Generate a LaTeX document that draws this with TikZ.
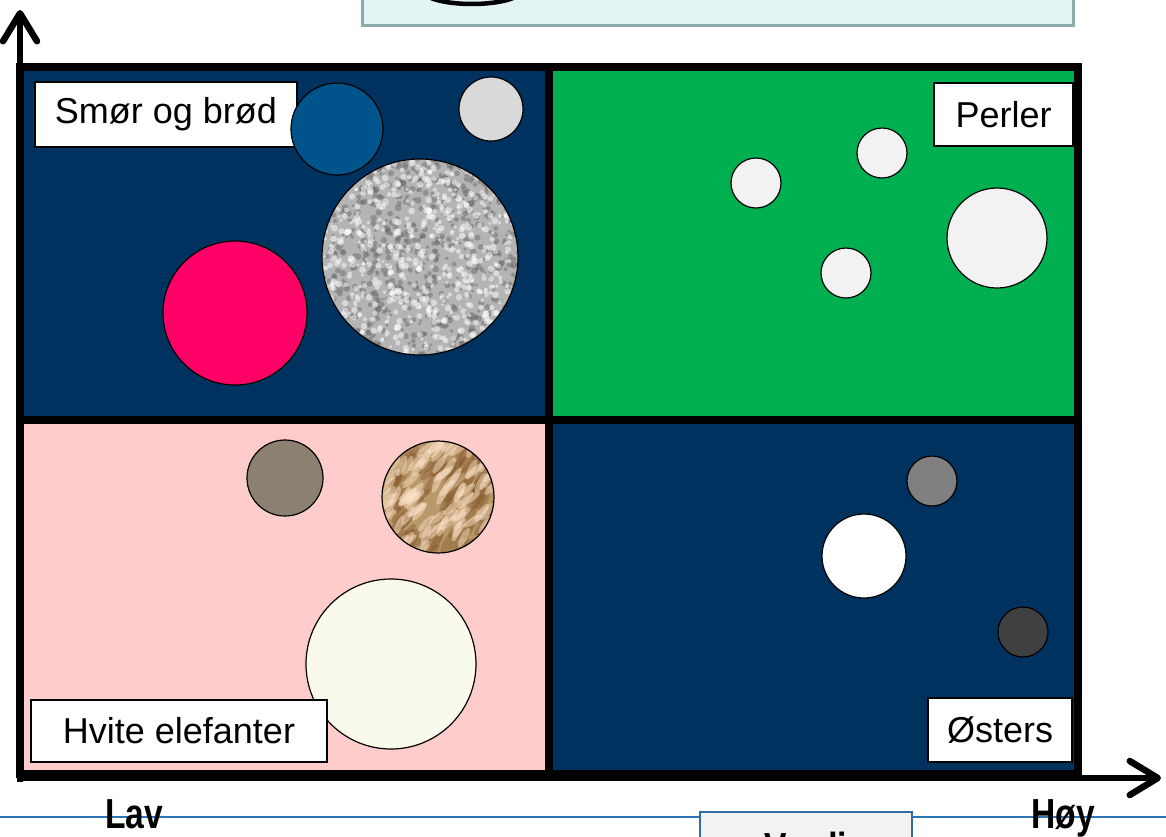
\documentclass[tikz,border=0pt]{standalone}
\usepackage{fontspec}
\setmainfont{Liberation Sans}
\usetikzlibrary{arrows.meta}
\definecolor{navy}{RGB}{0,50,96}
\definecolor{leafgreen}{RGB}{0,176,80}
\definecolor{blush}{RGB}{255,204,204}
\definecolor{seablue}{RGB}{0,84,140}
\definecolor{hotpink}{RGB}{255,0,102}
\definecolor{pebble}{RGB}{180,180,180}
\definecolor{taupe}{RGB}{140,128,112}
\definecolor{goldfoil}{RGB}{185,152,105}
\definecolor{cream}{RGB}{249,249,236}
\definecolor{pearl}{RGB}{242,242,242}
\definecolor{capfill}{RGB}{227,244,244}
\definecolor{capline}{RGB}{143,170,170}
\definecolor{ruleblue}{RGB}{46,117,182}
\definecolor{boxblue}{RGB}{47,110,165}
\begin{document}
\begin{tikzpicture}[x=1pt,y=-1pt,
	tag/.style={draw=black, fill=white, line width=1.2pt, font=\fontsize{36}{43}\selectfont, inner sep=0pt},
	ball/.style={draw=black, line width=1.2pt},
	axis/.style={line width=6.5pt, -{Straight Barb[length=28pt,width=34pt,round]}},
	scalelabel/.style={font=\fontsize{42}{48}\selectfont\bfseries, anchor=base}]
	\clip (0,0) rectangle (1166,836);

	\draw[capline, fill=capfill, line width=3pt] (362,-20) rectangle (1073,25);
	\draw[line width=4.5pt] (472,-10) ellipse(50 and 14);

	\fill[navy] (24,71) rectangle (545,416);
	\fill[leafgreen] (553,71) rectangle (1074,416);
	\fill[blush] (24,424) rectangle (545,770);
	\fill[navy] (553,424) rectangle (1074,770);

	\node[tag, minimum width=262, minimum height=65] (smor) at (166,114.5) {Smør og brød};
	\node[tag, minimum width=139, minimum height=63] (perler) at (1003.5,114.5) {Perler};
	\node[tag, minimum width=144, minimum height=64] (osters) at (1000,730) {Østers};

	\filldraw[ball, fill=seablue] (337,129) circle(46);
	\filldraw[ball, fill=black!15] (491,109) circle(32);
	\filldraw[ball, fill=hotpink] (235,313) circle(72);
	\begin{scope}
		\clip (420,257) circle(98);
		\fill[pebble] (420,257) circle(98);
		\foreach \i in {1,...,700}
			\fill[black!60, opacity=.45] (420+98*rand,257+98*rand) circle(1.5+2*rnd);
		\foreach \i in {1,...,700}
			\fill[white, opacity=.5] (420+98*rand,257+98*rand) circle(1.5+2*rnd);
	\end{scope}
	\draw[ball] (420,257) circle(98);

	\filldraw[ball, fill=pearl] (756,183) circle(25);
	\filldraw[ball, fill=pearl] (882,153) circle(25);
	\filldraw[ball, fill=pearl] (846,273) circle(25);
	\filldraw[ball, fill=pearl] (997,238) circle(50);

	\filldraw[ball, fill=taupe] (285,478) circle(38);
	\begin{scope}
		\clip (438,497) circle(56);
		\fill[goldfoil] (438,497) circle(56);
		\foreach \i in {1,...,90}
			\fill[brown!70!black, opacity=.4, shift={(438+56*rand,497+56*rand)}, rotate=30+40*rnd] (0,0) ellipse(12 and 4);
		\foreach \i in {1,...,90}
			\fill[orange!20!white, opacity=.45, shift={(438+56*rand,497+56*rand)}, rotate=30+40*rnd] (0,0) ellipse(11 and 3.5);
	\end{scope}
	\draw[ball] (438,497) circle(56);
	\filldraw[ball, fill=cream] (391,664) circle(85);
	\node[tag, minimum width=296, minimum height=62] (hvite) at (179,731) {Hvite elefanter};

	\filldraw[ball, fill=black!50] (932,481) circle(25);
	\filldraw[ball, fill=white] (864,556) circle(42);
	\filldraw[ball, fill=black!75] (1023,632) circle(25);

	\draw[line width=8pt] (20,67) rectangle (1078,774);
	\draw[line width=8pt] (549,67) -- (549,774);
	\draw[line width=8pt] (20,420) -- (1078,420);

	\coordinate (origin) at (20,782);
	\coordinate (ytip) at (20,10);
	\coordinate (xstart) at (17,778);
	\coordinate (xtip) at (1161,778);
	\draw[axis] (origin) -- (ytip);
	\draw[axis] (xstart) -- (xtip);

	\draw[ruleblue, line width=1.5pt] (0,817) -- (1166,817);
	\draw[boxblue, fill=pearl, line width=2pt] (700,812) rectangle (912,900);
	\node[scalelabel] (verdi) at (806,862) {\scalebox{.8}[1]{Verdi}};
	\node[scalelabel] (lav) at (134,828) {\scalebox{.8}[1]{Lav}};
	\node[scalelabel] (hoy) at (1063,828) {\scalebox{.8}[1]{Høy}};
\end{tikzpicture}
\end{document}
